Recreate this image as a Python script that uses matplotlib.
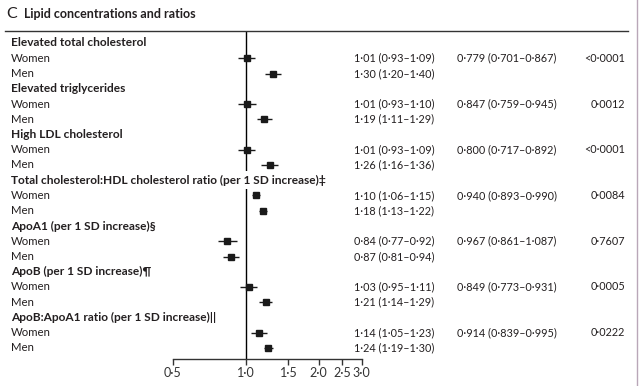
import matplotlib
matplotlib.use("Agg")
import matplotlib.pyplot as plt
import numpy as np
from matplotlib.lines import Line2D
from matplotlib.transforms import blended_transform_factory

plt.rcParams["font.family"] = ["Lato", "DejaVu Sans"]

groups = [
    "Elevated total cholesterol",
    "Elevated triglycerides",
    "High LDL cholesterol",
    "Total cholesterol:HDL cholesterol ratio (per 1 SD increase)\u2021",
    "ApoA1 (per 1 SD increase)\u00a7",
    "ApoB (per 1 SD increase)\u00b6",
    "ApoB:ApoA1 ratio (per 1 SD increase)||",
]
women_or = [1.01, 1.01, 1.01, 1.10, 0.84, 1.03, 1.14]
women_lo = [0.93, 0.93, 0.93, 1.06, 0.77, 0.95, 1.05]
women_hi = [1.09, 1.10, 1.09, 1.15, 0.92, 1.11, 1.23]
men_or = [1.30, 1.19, 1.26, 1.18, 0.87, 1.21, 1.24]
men_lo = [1.20, 1.11, 1.16, 1.13, 0.81, 1.14, 1.19]
men_hi = [1.40, 1.29, 1.36, 1.22, 0.94, 1.29, 1.30]
ratio = [0.779, 0.847, 0.800, 0.940, 0.967, 0.849, 0.914]
ratio_lo = [0.701, 0.759, 0.717, 0.893, 0.861, 0.773, 0.839]
ratio_hi = [0.867, 0.945, 0.892, 0.990, 1.087, 0.931, 0.995]
pvals = ["<0\u00b70001", "0\u00b70012", "<0\u00b70001", "0\u00b70084",
         "0\u00b77607", "0\u00b70005", "0\u00b70222"]
xticks = [0.5, 1.0, 1.5, 2.0, 2.5, 3.0]


def fmt(v, d=2):
    return f"{v:.{d}f}".replace(".", "\u00b7")


W, H = 641, 386
fig = plt.figure(figsize=(W / 100, H / 100), dpi=100)

# axes placed in pixel terms: x 0.5 -> 172.5 px, 3.0 -> 361.5 px; y 31..359 px
x0, x1 = 172.5, 361.5
ytop, ybot = 31, 359
ax = fig.add_axes([x0 / W, (H - ybot) / H, (x1 - x0) / W, (ybot - ytop) / H])
ax.set_xscale("log")
ax.set_xlim(0.5, 3.0)
row_h = 15.25
first_row = 43
ax.set_ylim((ybot - first_row) / row_h, (ytop - first_row) / row_h)
ax.patch.set_visible(False)
for s in ["top", "right", "left"]:
    ax.spines[s].set_visible(False)
ax.spines["bottom"].set_linewidth(1.0)
ax.spines["bottom"].set_color("#333333")
ax.set_yticks([])
ax.set_xticks(xticks)
ax.set_xticklabels([fmt(t, 1) for t in xticks])
ax.xaxis.set_minor_locator(matplotlib.ticker.NullLocator())
ax.tick_params(axis="x", direction="out", length=4, width=1.0, color="#333333",
               labelsize=9, labelcolor="#333333", pad=1.5)
ax.axvline(1.0, color="black", lw=1.0, zorder=1)

tr = blended_transform_factory(fig.transFigure, ax.transData)
txt_col = "#231f20"
fs = 8.2
fs_bold = 8.6
fs_num = 7.8

for i, g in enumerate(groups):
    yh = i * 3
    yw, ym = yh + 1, yh + 2
    # header sits over the reference line, so it blanks the line behind it
    ax.text(11 / W, yh, g, transform=tr, fontsize=fs_bold, fontweight="bold",
            color=txt_col, va="center", ha="left", zorder=5,
            bbox=dict(facecolor="white", edgecolor="none", pad=2.5))
    ax.text(11 / W, yw, "Women", transform=tr, fontsize=fs, color=txt_col,
            va="center", ha="left")
    ax.text(11 / W, ym, "Men", transform=tr, fontsize=fs, color=txt_col,
            va="center", ha="left")

    ax.errorbar([women_or[i]], [yw],
                xerr=[[women_or[i] - women_lo[i]], [women_hi[i] - women_or[i]]],
                fmt="s", color="#1a1a1a", ms=3.8, elinewidth=1.0, capsize=0, zorder=3)
    ax.errorbar([men_or[i]], [ym],
                xerr=[[men_or[i] - men_lo[i]], [men_hi[i] - men_or[i]]],
                fmt="s", color="#1a1a1a", ms=3.8, elinewidth=1.0, capsize=0, zorder=3)

    ax.text(354 / W, yw, f"{fmt(women_or[i])} ({fmt(women_lo[i])}\u2013{fmt(women_hi[i])})",
            transform=tr, fontsize=fs_num, color=txt_col, va="center", ha="left")
    ax.text(354 / W, ym, f"{fmt(men_or[i])} ({fmt(men_lo[i])}\u2013{fmt(men_hi[i])})",
            transform=tr, fontsize=fs_num, color=txt_col, va="center", ha="left")
    ax.text(457 / W, yw, f"{fmt(ratio[i], 3)} ({fmt(ratio_lo[i], 3)}\u2013{fmt(ratio_hi[i], 3)})",
            transform=tr, fontsize=fs_num, color=txt_col, va="center", ha="left")
    ax.text(625 / W, yw, pvals[i], transform=tr, fontsize=fs_num, color=txt_col,
            va="center", ha="right")

# panel title
fig.text(6 / W, 1 - 14 / H, "C", fontsize=11.5, color=txt_col, va="center", ha="left")
fig.text(24 / W, 1 - 14.5 / H, "Lipid concentrations and ratios", fontsize=9,
         fontweight="bold", color=txt_col, va="center", ha="left")

# header rule and page edge
fig.add_artist(Line2D([5 / W, 628 / W], [1 - 31 / H, 1 - 31 / H],
                      transform=fig.transFigure, color="#333333", lw=1.0))
fig.add_artist(Line2D([636.5 / W, 636.5 / W], [0, 1],
                      transform=fig.transFigure, color="#b9a7b8", lw=1.0))

fig.savefig("out.png", dpi=100)
